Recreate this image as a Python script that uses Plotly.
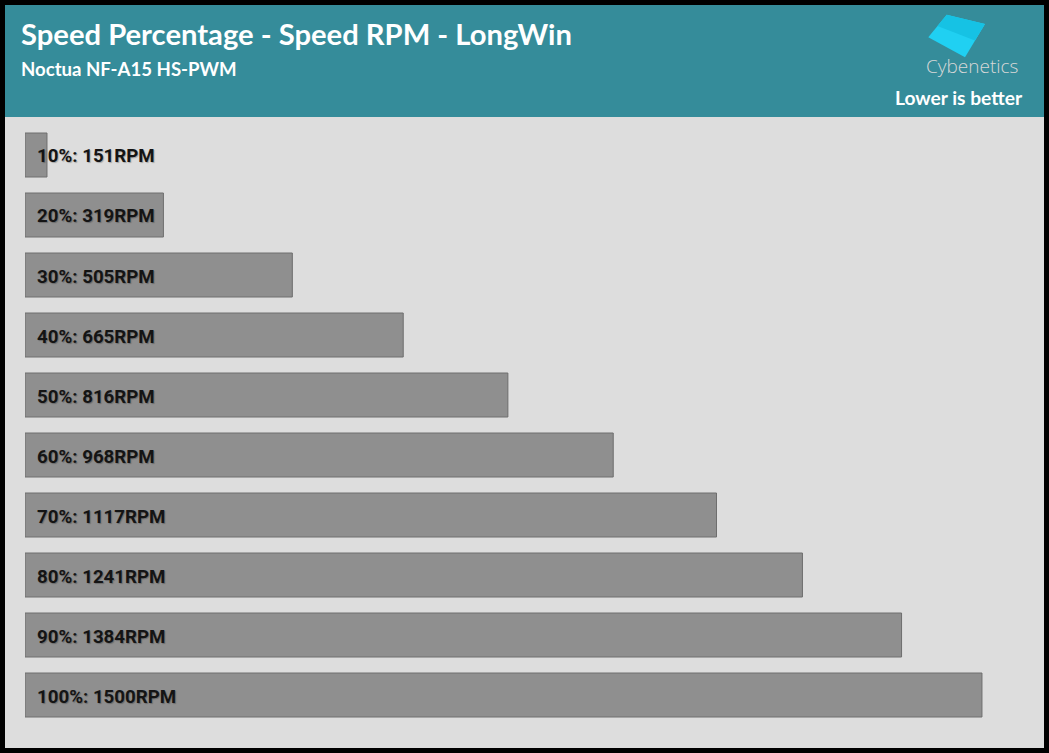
import plotly.graph_objects as go

# ---- data ----
percentages = [10, 20, 30, 40, 50, 60, 70, 80, 90, 100]
rpm = [151, 319, 505, 665, 816, 968, 1117, 1241, 1384, 1500]
categories = [f"{p}%" for p in percentages]
labels = [f"{p}%: {r}RPM" for p, r in zip(percentages, rpm)]

title = "Speed Percentage - Speed RPM - LongWin"
subtitle = "Noctua NF-A15 HS-PWM"
note = "Lower is better"

W, H = 1049, 753
X_MIN = 119.3
SCALE = 0.6931  # px per RPM
PLOT_L, PLOT_R = 25, 1030
PLOT_T, PLOT_B = 125, 725
X_MAX = X_MIN + (PLOT_R - PLOT_L) / SCALE


def px(x):
    return x / W


def py(y):
    return 1 - y / H


fig = go.Figure()
fig.add_trace(go.Bar(
    y=categories,
    x=[r - X_MIN for r in rpm],
    base=X_MIN,
    orientation="h",
    width=44 / 60,
    marker=dict(color="#8f8f8f", line=dict(color="#6e6e6e", width=1)),
    textposition="none",
    hoverinfo="skip",
))

shapes = [
    dict(type="rect", xref="paper", yref="paper", x0=px(5), x1=px(1044), y0=py(5), y1=py(117),
         fillcolor="#358c9a", line=dict(width=0), layer="below"),
    dict(type="rect", xref="paper", yref="paper", x0=px(5), x1=px(1044), y0=py(117), y1=py(748),
         fillcolor="#dddddd", line=dict(width=0), layer="below"),
]

# logo parallelogram
pts = [(946.7, 14.7), (985, 24), (965, 57.3), (928.3, 37.3)]
path = "M " + " L ".join(f"{px(a)},{py(b)}" for a, b in pts) + " Z"
shapes.append(dict(type="path", xref="paper", yref="paper", path=path,
                   fillcolor="#20d0f2", line=dict(width=0)))
pts2 = [(946.7, 14.7), (985, 24), (975, 40.5), (937.5, 26)]
path2 = "M " + " L ".join(f"{px(a)},{py(b)}" for a, b in pts2) + " Z"
shapes.append(dict(type="path", xref="paper", yref="paper", path=path2,
                   fillcolor="#16c2e4", line=dict(width=0)))

annotations = [
    dict(text=title, xref="paper", yref="paper", x=px(19), y=py(34), xanchor="left", yanchor="middle",
         showarrow=False, font=dict(family="Lato", size=29.2, color="white", weight="bold")),
    dict(text=subtitle, xref="paper", yref="paper", x=px(19), y=py(69), xanchor="left", yanchor="middle",
         showarrow=False, font=dict(family="Lato", size=18.6, color="white", weight="bold")),
    dict(text="Cybenetics", xref="paper", yref="paper", x=px(971.5), y=py(66), xanchor="center", yanchor="middle",
         showarrow=False, font=dict(family="Open Sans", size=19, color="#d8d8d8", weight=300)),
    dict(text=note, xref="paper", yref="paper", x=px(1025), y=py(97), xanchor="right", yanchor="middle",
         showarrow=False, font=dict(family="Lato", size=19.2, color="white", weight="bold")),
]

for cat, lab in zip(categories, labels):
    annotations.append(dict(
        text=lab, x=X_MIN, y=cat, xref="x", yref="y", xanchor="left", yanchor="middle",
        xshift=10, yshift=-1.5, showarrow=False,
        font=dict(family="Roboto", size=18.7, color="#141414", weight="bold",
                  shadow="1px 1px 1px rgba(0,0,0,0.25)"),
    ))

fig.update_layout(
    width=W, height=H,
    margin=dict(l=0, r=0, t=0, b=0),
    paper_bgcolor="black",
    plot_bgcolor="rgba(0,0,0,0)",
    showlegend=False,
    shapes=shapes,
    annotations=annotations,
    xaxis=dict(domain=[px(PLOT_L), px(PLOT_R)], range=[X_MIN, X_MAX], showgrid=False,
               zeroline=False, showticklabels=False, showline=False, fixedrange=True),
    yaxis=dict(domain=[py(PLOT_B), py(PLOT_T)], autorange="reversed", showgrid=False,
               zeroline=False, showticklabels=False, showline=False, fixedrange=True,
               type="category"),
)

fig.write_html("out.html", config={"displayModeBar": False},
               post_script="document.body.style.margin='0';document.body.style.background='black';")
